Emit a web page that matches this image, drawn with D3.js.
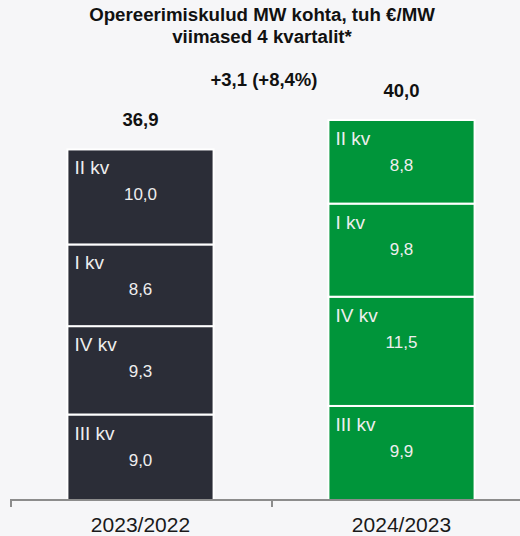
<!DOCTYPE html>
<html>
<head>
<meta charset="utf-8">
<script src="https://cdn.jsdelivr.net/npm/d3@7"></script>
<style>
  body { margin: 0; background: #f6f6f8; }
  svg { display: block; font-family: "Liberation Sans", Arial, sans-serif; }
</style>
</head>
<body>
<div id="chart"></div>
<script>
const periods = ["2023/2022", "2024/2023"];
const quarters = ["III kv", "IV kv", "I kv", "II kv"]; // bottom to top
const values2023 = [9.0, 9.3, 8.6, 10.0];
const values2024 = [9.9, 11.5, 9.8, 8.8];
const totals = ["36,9", "40,0"];
const changeLabel = "+3,1 (+8,4%)";
const titleLines = ["Opereerimiskulud MW kohta, tuh €/MW", "viimased 4 kvartalit*"];

const width = 520, height = 536;
const colors = ["#2b2d37", "#00953a"];

const svg = d3.select("#chart").append("svg")
    .attr("width", width)
    .attr("height", height);

svg.append("rect").attr("width", width).attr("height", height).attr("fill", "#f6f6f8");

// Title
svg.selectAll(".title")
    .data(titleLines)
    .enter()
    .append("text")
    .attr("x", 262)
    .attr("y", (d, i) => 21 + i * 22)
    .attr("text-anchor", "middle")
    .style("font-size", "18.7px")
    .style("font-weight", "bold")
    .style("fill", "#111")
    .text(d => d);

// Scales
const x = d3.scaleBand().domain(periods).range([10, 532]);
const barW = x.bandwidth() * 0.56;
const y = d3.scaleLinear().domain([0, 40]).range([500, 120]);

const series = [values2023, values2024];

series.forEach((vals, si) => {
    const left = x(periods[si]) + (x.bandwidth() - barW) / 2;
    let acc = 0;
    const segs = vals.map((v, i) => {
        const s = { q: quarters[i], v, y0: acc, y1: acc + v };
        acc += v;
        return s;
    });

    const g = svg.append("g");
    g.selectAll("rect")
        .data(segs)
        .enter()
        .append("rect")
        .attr("x", left)
        .attr("y", d => y(d.y1))
        .attr("width", barW)
        .attr("height", d => y(d.y0) - y(d.y1))
        .attr("fill", colors[si])
        .attr("stroke", "#fff")
        .attr("stroke-width", 2);

    g.selectAll(".q")
        .data(segs)
        .enter()
        .append("text")
        .attr("x", left + 7)
        .attr("y", d => y(d.y1) + 25)
        .style("font-size", "19px")
        .style("fill", "#eeeeee")
        .text(d => d.q);

    g.selectAll(".v")
        .data(segs)
        .enter()
        .append("text")
        .attr("x", left + barW / 2)
        .attr("y", d => y(d.y1) + 51)
        .attr("text-anchor", "middle")
        .style("font-size", "17px")
        .style("fill", "#eeeeee")
        .text(d => d.v.toFixed(1).replace(".", ","));

    // total on top
    svg.append("text")
        .attr("x", left + barW / 2)
        .attr("y", y(acc) - 23)
        .attr("text-anchor", "middle")
        .style("font-size", "18.5px")
        .style("font-weight", "bold")
        .style("fill", "#111")
        .text(totals[si]);
});

svg.append("text")
    .attr("x", 264)
    .attr("y", 86)
    .attr("text-anchor", "middle")
    .style("font-size", "18.5px")
    .style("font-weight", "bold")
    .style("fill", "#111")
    .text(changeLabel);

// Axis
const axisY = 500;
svg.append("line")
    .attr("x1", 10).attr("x2", width)
    .attr("y1", axisY).attr("y2", axisY)
    .attr("stroke", "#8c8c8c").attr("stroke-width", 2);

svg.selectAll(".tick")
    .data(periods)
    .enter()
    .append("line")
    .attr("x1", d => x(d) + 1).attr("x2", d => x(d) + 1)
    .attr("y1", axisY).attr("y2", axisY + 7)
    .attr("stroke", "#8c8c8c").attr("stroke-width", 2);

svg.selectAll(".cat")
    .data(periods)
    .enter()
    .append("text")
    .attr("x", d => x(d) + x.bandwidth() / 2)
    .attr("y", 532)
    .attr("text-anchor", "middle")
    .style("font-size", "21px")
    .style("fill", "#1a1a1a")
    .text(d => d);
</script>
</body>
</html>
